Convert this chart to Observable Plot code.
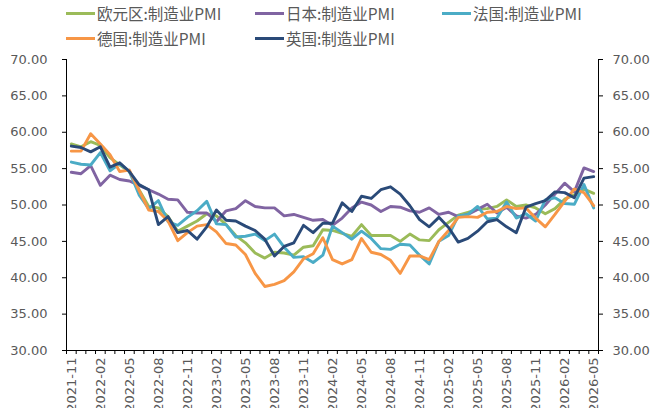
<!DOCTYPE html>
<html>
<head>
<meta charset="utf-8">
<script src="https://cdn.jsdelivr.net/npm/d3@7"></script>
<script src="https://cdn.jsdelivr.net/npm/@observablehq/plot@0.6"></script>
<style>
  html, body { margin: 0; padding: 0; background: #fff; }
  #wrap { position: relative; width: 653px; height: 408px; overflow: hidden; }
  .lg { position: absolute; display: flex; align-items: center; font-family: "Noto Sans CJK SC", "Noto Sans", sans-serif; font-size: 15.5px; color: #595959; white-space: nowrap; }
  .lg i { display: inline-block; width: 29px; height: 3px; margin-right: 2px; }
</style>
</head>
<body>
<div id="wrap"></div>
<script>
// Months 2021-11 .. 2026-05
const months = [
  "2021-11","2021-12",
  "2022-01","2022-02","2022-03","2022-04","2022-05","2022-06","2022-07","2022-08","2022-09","2022-10","2022-11","2022-12",
  "2023-01","2023-02","2023-03","2023-04","2023-05","2023-06","2023-07","2023-08","2023-09","2023-10","2023-11","2023-12",
  "2024-01","2024-02","2024-03","2024-04","2024-05","2024-06","2024-07","2024-08","2024-09","2024-10","2024-11","2024-12",
  "2025-01","2025-02","2025-03","2025-04","2025-05","2025-06","2025-07","2025-08","2025-09","2025-10","2025-11","2025-12",
  "2026-01","2026-02","2026-03","2026-04","2026-05"
];
const tickLabels = ["2021-11","2022-02","2022-05","2022-08","2022-11","2023-02","2023-05","2023-08","2023-11","2024-02","2024-05","2024-08","2024-11","2025-02","2025-05","2025-08","2025-11","2026-02","2026-05"];
const yTicks = [30, 35, 40, 45, 50, 55, 60, 65, 70];

const seriesNames = ["欧元区:制造业PMI", "日本:制造业PMI", "法国:制造业PMI", "德国:制造业PMI", "英国:制造业PMI"];
const seriesColors = ["#9BBB59", "#8064A2", "#4BACC6", "#F79646", "#2A4A78"];

const euro = [58.4,58.0,
  58.7,58.2,56.5,55.5,54.6,52.1,49.8,49.6,48.4,46.4,47.1,47.8,
  48.8,48.5,47.3,45.8,44.8,43.4,42.7,43.5,43.4,43.1,44.2,44.4,
  46.6,46.5,46.1,45.7,47.3,45.8,45.8,45.8,45.0,46.0,45.2,45.1,
  46.6,47.6,48.6,49.0,49.4,49.5,49.8,50.7,49.8,50.0,49.6,48.8,
  49.5,50.8,51.4,52.2,51.6];
const japan = [54.5,54.3,
  55.4,52.7,54.1,53.5,53.3,52.7,52.1,51.5,50.8,50.7,49.0,48.9,
  48.9,47.7,49.2,49.5,50.6,49.8,49.6,49.6,48.5,48.7,48.3,47.9,
  48.0,47.2,48.2,49.6,50.4,50.0,49.1,49.8,49.7,49.2,49.0,49.6,
  48.7,49.0,48.4,48.7,49.4,50.1,48.9,49.7,48.5,48.2,48.7,50.0,
  51.5,53.0,51.8,55.1,54.6];
const france = [55.9,55.6,
  55.5,57.2,54.7,55.7,54.6,51.4,49.5,50.6,47.7,47.2,48.3,49.2,
  50.5,47.4,47.3,45.6,45.7,46.0,45.1,46.0,44.2,42.8,42.9,42.1,
  43.1,47.1,46.2,45.3,46.4,45.4,44.0,43.9,44.6,44.5,43.1,41.9,
  45.0,45.8,48.5,48.7,49.8,48.1,48.2,50.4,48.2,48.8,47.8,50.7,
  51.0,50.2,50.1,52.8,49.6];
const germany = [57.4,57.4,
  59.8,58.4,56.9,54.6,54.8,52.0,49.3,49.1,47.8,45.1,46.2,47.1,
  47.3,46.3,44.7,44.5,43.2,40.6,38.8,39.1,39.6,40.8,42.6,43.3,
  45.5,42.5,41.9,42.5,45.4,43.5,43.2,42.4,40.6,43.0,43.0,42.5,
  45.0,46.5,48.3,48.4,48.3,49.0,49.1,49.8,49.5,49.6,48.2,47.0,
  48.7,50.5,52.2,51.7,49.9];
const uk = [58.1,57.9,
  57.3,58.0,55.2,55.8,54.6,52.8,52.1,47.3,48.4,46.2,46.5,45.3,
  47.0,49.3,47.9,47.8,47.1,46.5,45.3,43.0,44.3,44.8,47.2,46.2,
  47.5,47.5,50.3,49.1,51.2,50.9,52.1,52.5,51.5,49.9,48.0,47.0,
  48.3,46.9,44.9,45.4,46.4,47.7,48.0,47.0,46.2,49.7,50.2,50.6,
  51.8,51.7,51.0,53.7,53.9];

const allSeries = [euro, japan, france, germany, uk];
const rows = [];
allSeries.forEach((vals, s) => vals.forEach((v, i) => rows.push({i, month: months[i], value: v, name: seriesNames[s]})));

const labelIdx = tickLabels.map(t => months.indexOf(t));
const boundaries = d3.range(months.length + 1).map(k => k - 0.5);

const chart = Plot.plot({
  width: 653,
  height: 408,
  marginLeft: 66,
  marginRight: 55,
  marginTop: 59,
  marginBottom: 58,
  style: {fontFamily: "DejaVu Sans, sans-serif", fontSize: "13px", background: "#fff"},
  x: {type: "linear", domain: [-0.5, months.length - 0.5]},
  y: {domain: [30, 70]},
  color: {domain: seriesNames, range: seriesColors},
  marks: [
    Plot.axisY({anchor: "left", ticks: yTicks, tickFormat: d => d.toFixed(2), tickSize: 4, tickPadding: 15, fontSize: 13, stroke: "#000", fill: "#595959", label: null}),
    Plot.axisY({anchor: "right", ticks: yTicks, tickFormat: d => d.toFixed(2), tickSize: 4, tickPadding: 10, fontSize: 13, stroke: "#000", fill: "#595959", label: null}),
    Plot.axisX({ticks: boundaries, tickFormat: () => "", tickSize: 4, stroke: "#000", label: null}),
    Plot.axisX({ticks: labelIdx, tickFormat: i => months[i], tickSize: 0, tickPadding: 7, tickRotate: -90, fontSize: 13, fill: "#595959", label: null}),
    Plot.ruleX([-0.5, months.length - 0.5], {stroke: "#000"}),
    Plot.ruleY([30], {stroke: "#000"}),
    Plot.line(rows, {x: "i", y: "value", z: "name", stroke: "name", strokeWidth: 2.9, strokeLinejoin: "round", strokeLinecap: "round"})
  ]
});

const wrap = document.getElementById("wrap");
wrap.appendChild(chart);

const legendPos = [[66, 13], [255, 13], [442, 13], [66, 38], [255, 38]];
seriesNames.forEach((n, k) => {
  const d = document.createElement("div");
  d.className = "lg";
  d.style.left = legendPos[k][0] + "px";
  d.style.top = (legendPos[k][1] - 10) + "px";
  d.style.height = "20px";
  d.innerHTML = `<i style="background:${seriesColors[k]}"></i><span>${n}</span>`;
  wrap.appendChild(d);
});
</script>
</body>
</html>
